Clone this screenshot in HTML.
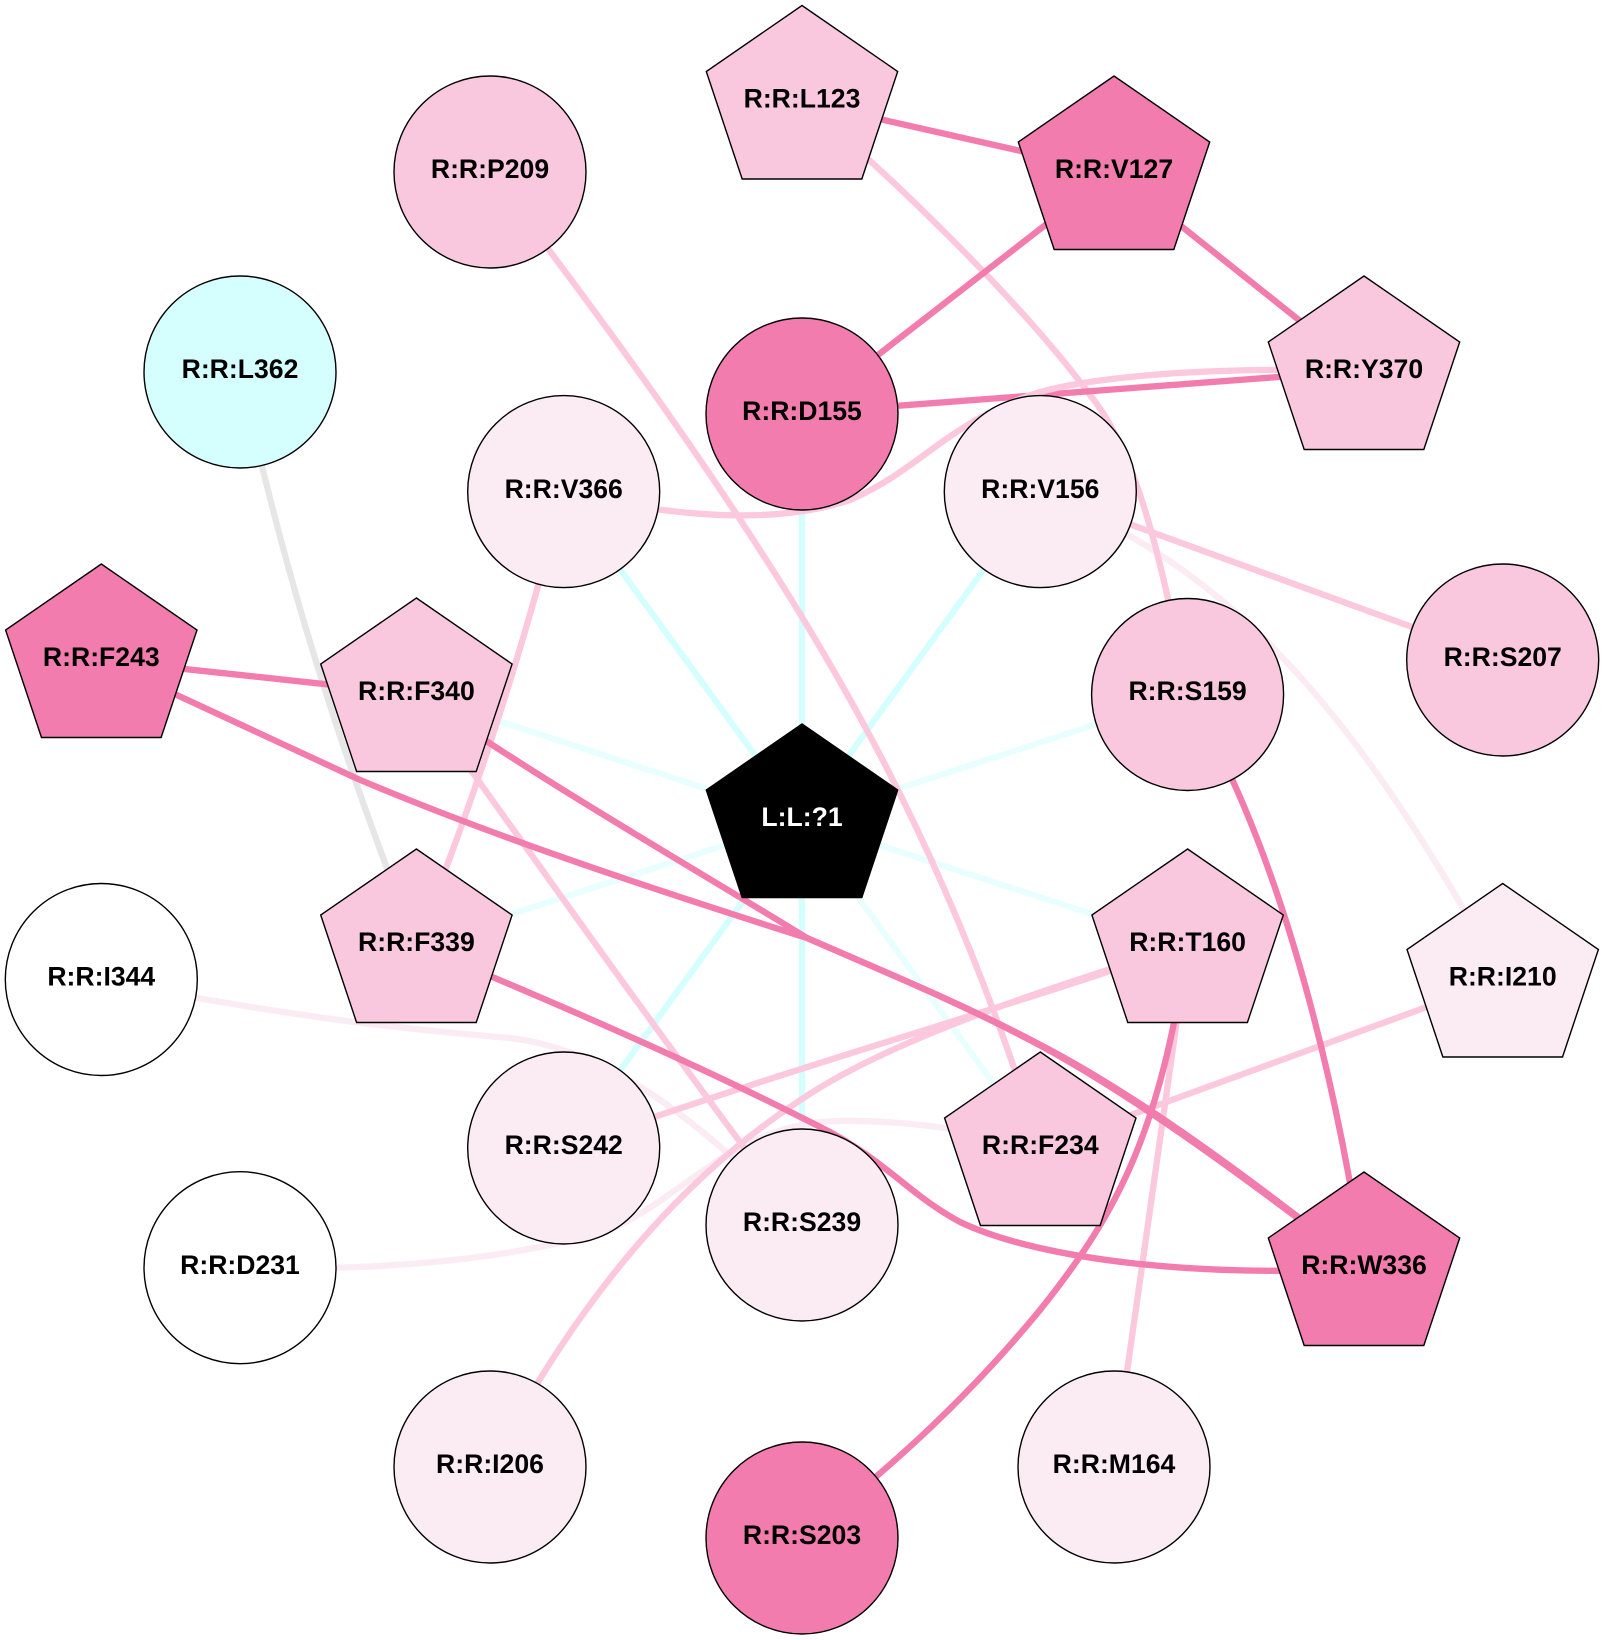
<!DOCTYPE html>
<html><head><meta charset="utf-8"><style>html,body{margin:0;padding:0;background:#fff}svg{display:block}text{font-family:"Liberation Sans",Arial,sans-serif;font-weight:bold;font-size:26.6px;text-anchor:middle;fill:#000}.e{fill:none;stroke-width:6.3;stroke-linejoin:round}.c{stroke:#d5ffff}.k{stroke:#e9ffff}.g{stroke:#e6e6e6}.v{stroke:#fbebf3}.l{stroke:#fbc8dd}.d{stroke:#f27cad}.n{stroke:#000;stroke-width:1.4}.a{fill:#f27cad}.b{fill:#f9c8de}.f{fill:#fbebf3}.w{fill:#fff}</style></head><body>
<svg width="1604" height="1640" viewBox="0 0 1604 1640" xmlns="http://www.w3.org/2000/svg">
<defs><polygon id="p" points="0,-96 95.7,-30 59.8,77.5 -59.8,77.5 -95.7,-30"/></defs>
<g class="e">
<path class="k" d="M802 820L416.4 694M802 820L1187.6 694.5M802 820L416.4 945M802 820L1187.6 945M802 820L1040.3 1148"/>
<path class="c" d="M802 820L563.7 491.6M802 820L1040.3 491.6M802 820V414M802 820V1225M802 820L563.7 1148"/>
<path class="g" d="M240 372C275 530 320 700 416.4 945"/>
<path class="v" d="M101.3 979.5C300 1020 420 1030 510 1038C610 1050 700 1120 802 1225"/>
<path class="v" d="M240 1267.7C400 1272 540 1255 620 1225C690 1190 740 1122 840 1121C900 1120 980 1130 1040.3 1148"/>
<path class="v" d="M1040.3 491.6C1200 560 1330 660 1502.7 979"/>
<path class="l" d="M490 172C580 290 700 450 802 617C870 730 960 890 1040.3 1148"/>
<path class="l" d="M802 101.5C880 165 1020 300 1090 395C1135 450 1160 550 1187.6 694.5"/>
<path class="l" d="M563.7 491.6C530 620 490 760 416.4 945"/>
<path class="l" d="M416.4 694C500 810 640 1010 802 1225"/>
<path class="l" d="M1040.3 491.6L1502.7 660M1502.7 979.3L1040.3 1148M1113.5 1467L1187.6 945"/>
<path class="l" d="M1187.6 945C1000 1010 800 1065 563.7 1148"/>
<path class="l" d="M1187.6 945C1040 990 890 1040 802 1099C700 1165 590 1275 490 1467"/>
<path class="d" d="M802 101.5L1113.5 172M1113.5 172L802 414M1113.5 172L1364 372M802 413L1364 370.5M101.3 660L416.4 694"/>
<path class="l" d="M563.7 491.6C640 510 760 530 850 500C920 470 950 420 1040 392C1110 373 1250 366 1364 372"/>
<path class="d" d="M101.3 660C175 695 270 738 358 779C490 835 640 885 807 938C885 972 965 1005 1040 1045.4C1139.3 1099 1249.3 1181 1364 1268"/>
<path class="d" d="M416.4 694C540 780 680 860 807 938C885 972 965 1005 1040 1044.6C1140.7 1097 1250.7 1179 1364 1268"/>
<path class="d" d="M416.4 945C560 1005 700 1065 830 1132C890 1165 910 1195 960 1222C1040 1260 1200 1278 1364 1268"/>
<path class="d" d="M1187.6 945C1160 1130 1120 1210 1040 1310C970 1395 900 1460 802 1538"/>
<path class="d" d="M1187.6 694.5C1270 830 1330 1040 1364 1268"/>
</g>
<g class="n">
<use href="#p" x="802" y="820" fill="#000"/>
<use href="#p" x="802" y="101.5" class="b"/>
<use href="#p" x="1114" y="172" class="a"/>
<use href="#p" x="1364" y="372" class="b"/>
<use href="#p" x="101.3" y="660" class="a"/>
<use href="#p" x="416.4" y="694" class="b"/>
<use href="#p" x="416.4" y="945" class="b"/>
<use href="#p" x="1187.6" y="945" class="b"/>
<use href="#p" x="1502.7" y="979.5" class="f"/>
<use href="#p" x="1040.3" y="1148" class="b"/>
<use href="#p" x="1364" y="1268" class="a"/>
<circle cx="490" cy="172" r="96" class="b"/>
<circle cx="240" cy="372" r="96" fill="#d5ffff"/>
<circle cx="802" cy="414" r="96" class="a"/>
<circle cx="563.7" cy="491.6" r="96" class="f"/>
<circle cx="1040.3" cy="491.6" r="96" class="f"/>
<circle cx="1187.6" cy="694.5" r="96" class="b"/>
<circle cx="1502.7" cy="660" r="96" class="b"/>
<circle cx="101.3" cy="979.5" r="96" class="w"/>
<circle cx="563.7" cy="1148" r="96" class="f"/>
<circle cx="802" cy="1225" r="96" class="f"/>
<circle cx="240" cy="1267.7" r="96" class="w"/>
<circle cx="490" cy="1467" r="96" class="f"/>
<circle cx="802" cy="1538" r="96" class="a"/>
<circle cx="1114" cy="1467" r="96" class="f"/>
</g>
<g transform="translate(0,-1.2)">
<text x="802" y="827" style="fill:#fff">L:L:?1</text>
<text x="802" y="108.8">R:R:L123</text>
<text x="490" y="179.4">R:R:P209</text>
<text x="1114" y="179.4">R:R:V127</text>
<text x="240" y="379.4">R:R:L362</text>
<text x="1364" y="379.4">R:R:Y370</text>
<text x="802" y="421.4">R:R:D155</text>
<text x="563.7" y="499">R:R:V366</text>
<text x="1040.3" y="499">R:R:V156</text>
<text x="101.3" y="667.4">R:R:F243</text>
<text x="1502.7" y="667.4">R:R:S207</text>
<text x="416.4" y="701.4">R:R:F340</text>
<text x="1187.6" y="701.4">R:R:S159</text>
<text x="416.4" y="952.4">R:R:F339</text>
<text x="1187.6" y="952.4">R:R:T160</text>
<text x="101.3" y="986.9">R:R:I344</text>
<text x="1502.7" y="986.9">R:R:I210</text>
<text x="563.7" y="1155.4">R:R:S242</text>
<text x="1040.3" y="1155.4">R:R:F234</text>
<text x="802" y="1232.4">R:R:S239</text>
<text x="240" y="1275">R:R:D231</text>
<text x="1364" y="1275">R:R:W336</text>
<text x="490" y="1474.4">R:R:I206</text>
<text x="1114" y="1474.4">R:R:M164</text>
<text x="802" y="1545.4">R:R:S203</text>
</g>
</svg>
</body></html>
